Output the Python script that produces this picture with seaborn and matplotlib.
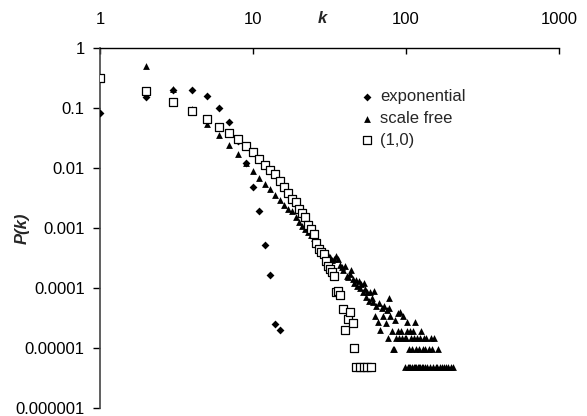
import matplotlib
matplotlib.use("Agg")
import matplotlib.pyplot as plt
from matplotlib.ticker import NullLocator
import seaborn as sns
import pandas as pd

# ---------------- data ----------------
exp_k = [1, 2, 3, 4, 5, 6, 7, 8, 9, 10, 11, 12, 13, 14, 15]
exp_p = [0.082, 0.152, 0.2, 0.2, 0.158, 0.1, 0.059, 0.028, 0.0123, 0.0049,
         0.0019, 0.00053, 0.000165, 0.000025, 0.00002]

sf_k = [2, 3, 4, 5, 6, 7, 8, 9, 10, 11, 12, 13, 14, 15, 16, 17, 18, 19, 20,
        21, 22, 23, 24, 25, 26, 27, 28, 29, 30, 31, 32, 33, 34, 35, 36, 37,
        38, 39, 40, 41, 42, 43, 44, 45, 46, 47, 48, 49, 50, 51, 52, 53, 54,
        55, 56, 57, 58, 60, 61, 62, 63, 64, 66, 67, 68, 70, 71, 72, 74, 75,
        76, 77, 78, 79, 81, 82, 84, 85, 86, 88, 89, 90, 91, 93, 94, 96, 98,
        99, 100, 101, 102, 103, 104, 105, 106, 107, 108, 109, 110, 111, 112,
        113, 114, 115, 116, 117, 118, 119, 121, 122, 123, 124, 126, 127, 129,
        130, 131, 133, 134, 136, 138, 141, 143, 146, 148, 151, 153, 156, 160,
        163, 166, 171, 177, 183, 189, 196, 204]
sf_p = [0.50, 0.21, 0.095, 0.055, 0.035, 0.024, 0.017, 0.012, 0.0089, 0.0069,
        0.0055, 0.0045, 0.0036, 0.0029, 0.0024, 0.0021, 0.0019, 0.0015,
        0.00126, 0.0011, 0.00098, 0.00085, 0.00075, 0.00068, 0.00056, 0.00051,
        0.00046, 0.0004, 0.00032, 0.00036, 0.00033, 0.00029, 0.00031, 0.00034,
        0.0003, 0.00024, 0.00022, 0.0002, 0.00023, 0.00016, 0.00015, 0.00017,
        0.0002, 0.00014, 0.00012, 0.000135, 0.00011, 0.00013, 0.0001,
        0.000115, 0.000085, 0.00012, 0.000095, 0.00007, 0.000085, 0.00006,
        0.000085, 0.000068, 0.000058, 0.00009, 0.000034, 0.00005, 0.000027,
        0.000056, 0.00002, 0.000047, 0.000034, 0.00005, 0.000026, 0.000043,
        0.0000145, 0.000068, 0.000046, 0.000034, 0.0000194, 0.0000097,
        0.0000097, 0.000029, 0.0000145, 0.000039, 0.0000194, 0.0000145,
        0.00004, 0.0000194, 0.0000145, 0.000034, 0.0000145,
        0.0000049, 0.0000145, 0.0000194, 0.000027, 0.0000049, 0.0000097,
        0.0000049, 0.0000194, 0.0000049, 0.0000145, 0.0000049, 0.0000097,
        0.0000194, 0.0000049, 0.0000145, 0.000027, 0.0000049, 0.0000097,
        0.0000049, 0.0000145, 0.0000049, 0.0000097, 0.0000049, 0.0000145,
        0.0000049, 0.0000194, 0.0000049, 0.0000097, 0.0000049, 0.0000145,
        0.0000049, 0.0000097, 0.0000145, 0.0000049, 0.0000097, 0.0000049,
        0.0000145, 0.0000097, 0.0000049, 0.0000145, 0.0000049, 0.0000049,
        0.0000097, 0.0000049, 0.0000049, 0.0000049, 0.0000049, 0.0000049,
        0.0000049, 0.0000049]

sq_k = [1, 2, 3, 4, 5, 6, 7, 8, 9, 10, 11, 12, 13, 14, 15, 16, 17, 18, 19,
        20, 21, 22, 23, 24, 25, 26, 27, 28, 29, 30, 31, 32, 33, 34, 35, 36,
        37, 39, 40, 42, 43, 45, 46, 47, 50, 53, 56, 59]
sq_p = [0.32, 0.19, 0.127, 0.089, 0.066, 0.049, 0.039, 0.030, 0.0237, 0.0185,
        0.0143, 0.0114, 0.0092, 0.0078, 0.0060, 0.0049, 0.0039, 0.0031,
        0.0027, 0.0021, 0.0018, 0.00155, 0.00114, 0.00097, 0.00078, 0.00057,
        0.00044, 0.0004, 0.000365, 0.000284, 0.00023, 0.000206, 0.000182,
        0.00016, 0.000085, 0.00009, 0.000075, 0.000045, 0.00002, 0.000031,
        0.00004, 0.000026, 0.0000099, 0.0000049, 0.0000049, 0.0000049,
        0.0000049, 0.0000049]

x_ticks = [1, 10, 100, 1000]
x_tick_labels = ["1", "10", "100", "1000"]
y_ticks = [1e-6, 1e-5, 1e-4, 1e-3, 1e-2, 1e-1, 1]
y_tick_labels = ["0.000001", "0.00001", "0.0001", "0.001", "0.01", "0.1", "1"]

# ---------------- style ----------------
sns.set_style("white")
plt.rcParams["font.family"] = ["Liberation Sans", "DejaVu Sans"]

fig = plt.figure(figsize=(5.87, 4.16), dpi=100)
ax = fig.add_axes([100 / 587, 8 / 416, 459 / 587, 360 / 416])

df_exp = pd.DataFrame({"k": exp_k, "P": exp_p})
df_sf = pd.DataFrame({"k": sf_k, "P": sf_p})
df_sq = pd.DataFrame({"k": sq_k, "P": sq_p})

sns.scatterplot(data=df_exp, x="k", y="P", marker="D", color="black",
                s=16, linewidth=0, label="exponential", ax=ax, zorder=3)
sns.scatterplot(data=df_sf, x="k", y="P", marker="^", color="black",
                s=24, linewidth=0, label="scale free", ax=ax, zorder=4)
sns.scatterplot(data=df_sq, x="k", y="P", marker="s", facecolor="white",
                edgecolor="black", s=28, linewidth=0.9, label="(1,0)", ax=ax,
                zorder=5)

ax.set_xscale("log")
ax.set_yscale("log")
ax.set_xlim(1, 1000)
ax.set_ylim(1e-6, 1)

ax.xaxis.tick_top()
ax.set_xticks(x_ticks)
ax.set_xticklabels(x_tick_labels)
ax.set_yticks(y_ticks)
ax.set_yticklabels(y_tick_labels)
ax.xaxis.set_minor_locator(NullLocator())
ax.yaxis.set_minor_locator(NullLocator())

ax.tick_params(axis="x", which="major", direction="in", length=4, width=1,
               top=True, bottom=False, labeltop=True, labelbottom=False,
               pad=15, labelsize=12, colors="black")
ax.tick_params(axis="y", which="major", direction="out", length=5, width=1,
               left=True, pad=6, labelsize=12, colors="black")

for side in ["bottom", "right"]:
    ax.spines[side].set_visible(False)
ax.spines["top"].set_color("black")
ax.spines["top"].set_linewidth(1.0)
ax.spines["left"].set_color("#444444")
ax.spines["left"].set_linewidth(1.2)

ax.xaxis.set_label_position("top")
ax.set_xlabel("k", fontsize=12, fontweight="bold", fontstyle="italic")
ax.xaxis.set_label_coords(0.484, 1.082)
ax.xaxis.label.set_verticalalignment("center")

ax.set_ylabel("P(k)", fontsize=12, fontweight="bold", fontstyle="italic")
ax.yaxis.set_label_coords(-0.170, 0.5)
ax.yaxis.label.set_verticalalignment("center")

ax.legend(loc="upper left", bbox_to_anchor=(0.56, 0.885), frameon=False,
          fontsize=12, handletextpad=0.2, labelspacing=0.4, borderaxespad=0,
          handlelength=1.2, borderpad=0)

fig.savefig("out.png", dpi=100)
